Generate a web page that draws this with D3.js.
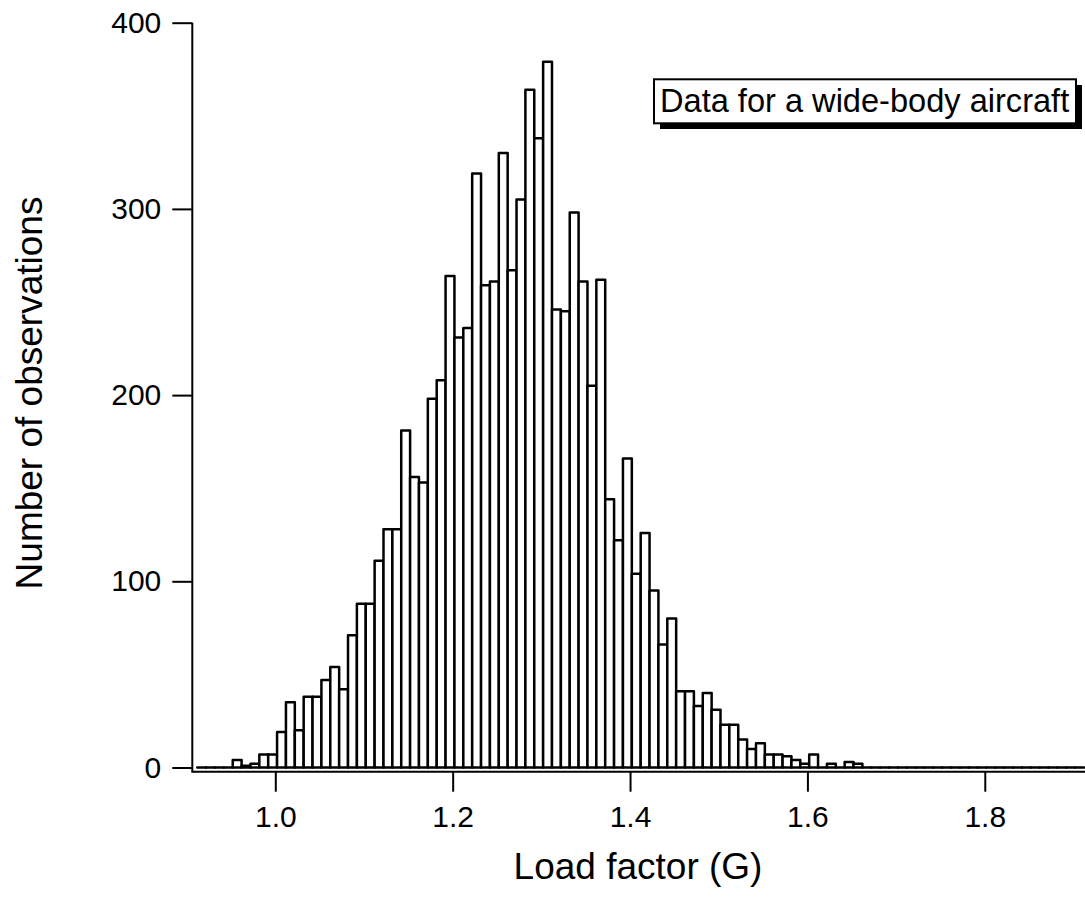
<!DOCTYPE html>
<html>
<head>
<meta charset="utf-8">
<script src="https://cdn.jsdelivr.net/npm/d3@7"></script>
<style>
    body { margin: 0; background: #fff; }
    text { font-family: "Liberation Sans", Arial, Helvetica, sans-serif; fill: #000; }
</style>
</head>
<body>
<svg id="chart"></svg>
<script>
// histogram: 100 bins of width 0.01 starting at 0.912
const binStart = 0.912;
const binWidth = 0.01;
const counts = [
    0, 0, 0, 0,
    4, 1, 2, 7, 7, 19, 35, 20, 38, 38,
    47, 54, 42, 71, 88, 88, 111, 128, 128, 181,
    156, 153, 198, 208, 264, 231, 236, 319, 259, 261,
    330, 267, 305, 364, 338, 379, 246, 245, 298, 261,
    205, 262, 144, 122, 166, 104, 126, 95, 66, 80,
    41, 41, 33, 40, 31, 23, 23, 15, 10, 13,
    7, 7, 6, 4, 2, 7, 0, 2, 0, 3,
    2, 0, 0, 0, 0, 0, 0, 0, 0, 0,
    0, 0, 0, 0, 0, 0, 0, 0, 0, 0,
    0, 0, 0, 0, 0, 0
];
const xTicks = [1.0, 1.2, 1.4, 1.6, 1.8];
const yTicks = [0, 100, 200, 300, 400];
const legendText = "Data for a wide-body aircraft";

document.addEventListener("DOMContentLoaded", drawChart);

function drawChart() {
    const width = 1085;
    const height = 900;

    const svg = d3.select("svg#chart")
        .attr("width", width)
        .attr("height", height);

    const x = d3.scaleLinear()
        .domain([0.9072, 1.913])
        .range([193, 1085]);

    const y = d3.scaleLinear()
        .domain([0, 400])
        .range([767.5, 22.7]);

    const axisY = 771.7;   // x axis sits a little below zero
    const axisX = 192.3;

    // bars, drawn as outlines so that empty bins still show as a line
    svg.append("g")
        .selectAll("path")
        .data(counts)
        .join("path")
        .attr("d", (d, i) => {
            const x0 = x(binStart + i * binWidth);
            const x1 = x(binStart + (i + 1) * binWidth);
            return `M${x0},${y(0)}V${y(d)}H${x1}V${y(0)}Z`;
        })
        .attr("fill", "#fff")
        .attr("stroke", "#000")
        .attr("stroke-width", 2.5)
        .attr("stroke-linejoin", "round");

    // x axis
    const xAxis = svg.append("g")
        .attr("transform", `translate(0,${axisY})`)
        .call(d3.axisBottom(x)
            .tickValues(xTicks)
            .tickFormat(d3.format(".1f"))
            .tickSize(20)
            .tickPadding(14));
    xAxis.select(".domain").remove();
    xAxis.selectAll(".tick line").attr("stroke", "#000").attr("stroke-width", 2);
    xAxis.selectAll(".tick text")
        .attr("font-size", 30)
        .attr("font-family", null);

    svg.append("line")
        .attr("x1", x.range()[0])
        .attr("x2", x.range()[1])
        .attr("y1", axisY)
        .attr("y2", axisY)
        .attr("stroke", "#000")
        .attr("stroke-width", 2);

    // y axis
    const yAxis = svg.append("g")
        .attr("transform", `translate(${axisX},0)`)
        .call(d3.axisLeft(y)
            .tickValues(yTicks)
            .tickSize(20)
            .tickPadding(11));
    yAxis.select(".domain").remove();
    yAxis.selectAll(".tick line").attr("stroke", "#000").attr("stroke-width", 2);
    yAxis.selectAll(".tick text")
        .attr("font-size", 30)
        .attr("font-family", null);

    svg.append("line")
        .attr("x1", axisX)
        .attr("x2", axisX)
        .attr("y1", y(400))
        .attr("y2", axisY + 1)
        .attr("stroke", "#000")
        .attr("stroke-width", 2);

    // axis titles
    svg.append("text")
        .attr("x", 638)
        .attr("y", 879)
        .attr("text-anchor", "middle")
        .attr("font-size", 37)
        .text("Load factor (G)");

    svg.append("text")
        .attr("transform", "translate(42,393) rotate(-90)")
        .attr("text-anchor", "middle")
        .attr("font-size", 37)
        .text("Number of observations");

    // legend box with drop shadow
    const legend = svg.append("g");
    legend.append("rect")
        .attr("x", 660)
        .attr("y", 85)
        .attr("width", 422)
        .attr("height", 44)
        .attr("fill", "#000");
    legend.append("rect")
        .attr("x", 654)
        .attr("y", 79.3)
        .attr("width", 422)
        .attr("height", 44)
        .attr("fill", "#fff")
        .attr("stroke", "#000")
        .attr("stroke-width", 2);
    legend.append("text")
        .attr("x", 660)
        .attr("y", 112)
        .attr("font-size", 32.6)
        .text(legendText);
}
</script>
</body>
</html>
